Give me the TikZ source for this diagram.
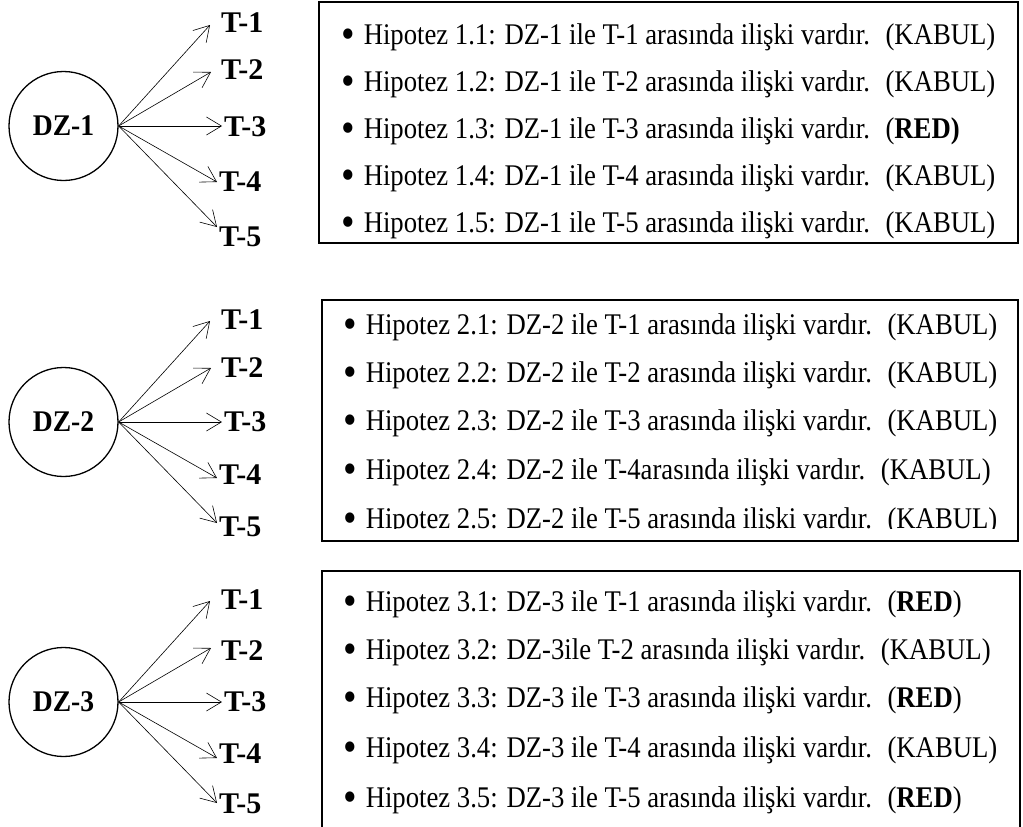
\documentclass[tikz,border=0pt]{standalone}
\usepackage{fontspec}
\setmainfont{Liberation Serif}[FakeStretch=0.89]
\newfontfamily\labfont{Liberation Serif}[FakeStretch=1.0]
\newfontfamily\dzfont{Liberation Serif}[FakeStretch=0.92]
\usetikzlibrary{arrows.meta}
\newcommand\bul{\raisebox{-4pt}{\scalebox{1.45}{•}}\hspace{9pt}}
\begin{document}
\begin{tikzpicture}[x=1pt,y=-1pt,
  every node/.style={inner sep=0pt},
  txt/.style={font=\fontsize{30}{36}\selectfont},
  dz/.style={circle, draw, line width=1.3pt, minimum size=109pt, font=\fontsize{30}{36}\selectfont\dzfont\bfseries},
  tlab/.style={anchor=west, font=\fontsize{30}{36}\selectfont\labfont\bfseries},
  arr/.style={line width=0.6pt, -{Straight Barb[length=15pt,width=18pt]}},
  row/.style={txt, anchor=west},
  frame/.style={line width=2pt}]
\useasboundingbox (0,0) rectangle (1023,827);

% ---------- circles, labels, arrows ----------
\foreach \g/\dy/\la/\lb/\lc/\ld/\le in {1/0/23/70/127/182/237, 2/296/320/368/422/475/527, 3/576/600/651/702/754/804} {
  \node[dz] (dz\g) at (63.5,126+\dy) {DZ-\g};
  \node[tlab] (t\g1) at (221,\la) {T-1};
  \node[tlab] (t\g2) at (221,\lb) {T-2};
  \node[tlab] (t\g3) at (224,\lc) {T-3};
  \node[tlab] (t\g4) at (219,\ld) {T-4};
  \node[tlab] (t\g5) at (219,\le) {T-5};
  \coordinate (p\g1) at (210,25+\dy);
  \coordinate (p\g2) at (211,72+\dy);
  \coordinate (p\g3) at (222,126+\dy);
  \coordinate (p\g4) at (217,182+\dy);
  \coordinate (p\g5) at (217,227+\dy);
  \foreach \i in {1,...,5} {
    \draw[arr] (dz\g.east) -- (p\g\i);
  }
}

% ---------- box 1 ----------
\draw[frame] (319,2) rectangle (1018,243);
\node[row] (h11) at (341,37)  {\bul Hipotez 1.1: DZ-1 ile T-1 arasında ilişki vardır.~ (KABUL)};
\node[row] (h12) at (341,84)  {\bul Hipotez 1.2: DZ-1 ile T-2 arasında ilişki vardır.~ (KABUL)};
\node[row] (h13) at (341,131) {\bul Hipotez 1.3: DZ-1 ile T-3 arasında ilişki vardır.~ (\textbf{RED)}};
\node[row] (h14) at (341,178) {\bul Hipotez 1.4: DZ-1 ile T-4 arasında ilişki vardır.~ (KABUL)};
\node[row] (h15) at (341,225) {\bul Hipotez 1.5: DZ-1 ile T-5 arasında ilişki vardır.~ (KABUL)};

% ---------- box 2 ----------
\begin{scope}
\clip (322,300) rectangle (1018,528);
\node[row] (h21) at (343,327) {\bul Hipotez 2.1: DZ-2 ile T-1 arasında ilişki vardır.~ (KABUL)};
\node[row] (h22) at (343,375) {\bul Hipotez 2.2: DZ-2 ile T-2 arasında ilişki vardır.~ (KABUL)};
\node[row] (h23) at (343,423) {\bul Hipotez 2.3: DZ-2 ile T-3 arasında ilişki vardır.~ (KABUL)};
\node[row] (h24) at (343,472) {\bul Hipotez 2.4: DZ-2 ile T-4arasında ilişki vardır.~ (KABUL)};
\node[row] (h25) at (343,521) {\bul Hipotez 2.5: DZ-2 ile T-5 arasında ilişki vardır.~ (KABUL)};
\end{scope}
\draw[frame] (322,300) rectangle (1018,541);

% ---------- box 3 (open at the bottom) ----------
\draw[frame] (322,827) -- (322,571) -- (1020,571) -- (1020,827);
\node[row] (h31) at (343,604) {\bul Hipotez 3.1: DZ-3 ile T-1 arasında ilişki vardır.~ (\textbf{RED})};
\node[row] (h32) at (343,652) {\bul Hipotez 3.2: DZ-3ile T-2 arasında ilişki vardır.~ (KABUL)};
\node[row] (h33) at (343,700) {\bul Hipotez 3.3: DZ-3 ile T-3 arasında ilişki vardır.~ (\textbf{RED})};
\node[row] (h34) at (343,750) {\bul Hipotez 3.4: DZ-3 ile T-4 arasında ilişki vardır.~ (KABUL)};
\node[row] (h35) at (343,800) {\bul Hipotez 3.5: DZ-3 ile T-5 arasında ilişki vardır.~ (\textbf{RED})};
\end{tikzpicture}
\end{document}
